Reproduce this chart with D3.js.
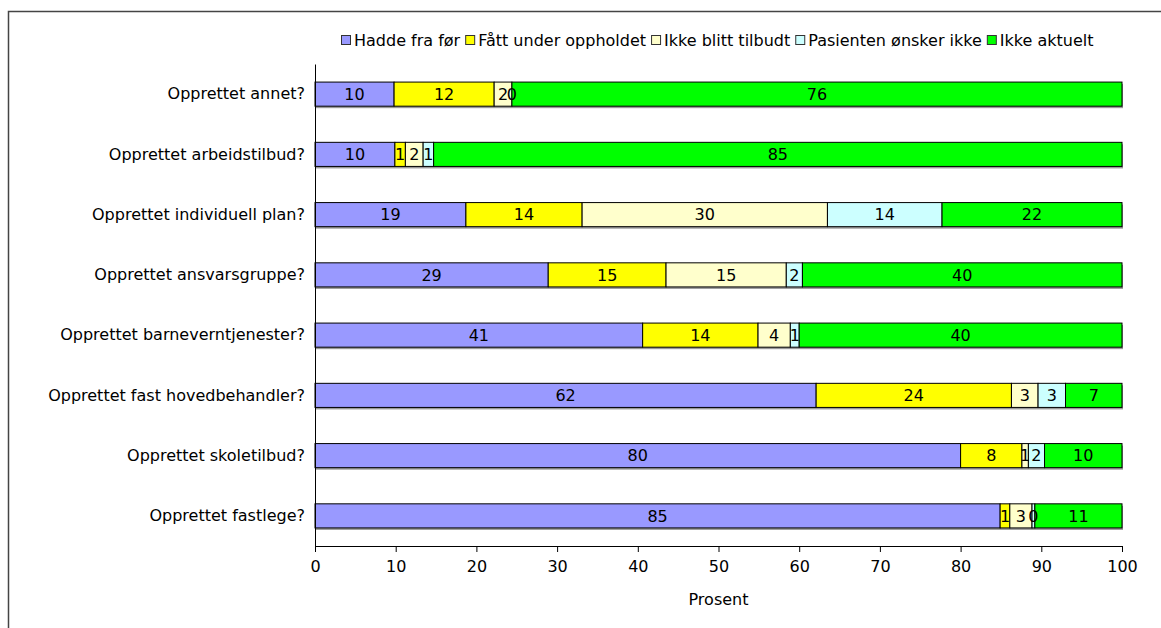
<!DOCTYPE html>
<html>
<head>
<meta charset="utf-8">
<script src="https://cdn.jsdelivr.net/npm/d3@7"></script>
<style>
  body { margin: 0; background: #fff; }
  text { font-family: "DejaVu Sans", Verdana, sans-serif; fill: #000; }
</style>
</head>
<body>
<svg width="1161" height="628"></svg>
<script>
// categories top to bottom
const questions = [
  "Opprettet annet?",
  "Opprettet arbeidstilbud?",
  "Opprettet individuell plan?",
  "Opprettet ansvarsgruppe?",
  "Opprettet barneverntjenester?",
  "Opprettet fast hovedbehandler?",
  "Opprettet skoletilbud?",
  "Opprettet fastlege?"
];
const seriesNames = ["Hadde fra før", "Fått under oppholdet", "Ikke blitt tilbudt", "Pasienten ønsker ikke", "Ikke aktuelt"];
const seriesColors = ["#9999ff", "#ffff00", "#ffffcc", "#ccffff", "#00ff00"];

// percent per series, one value per question
const haddeFraFor    = [9.8, 9.9, 18.7, 28.9, 40.6, 62.1, 80.0, 84.9];
const fattUnder      = [12.4, 1.3, 14.4, 14.6, 14.3, 24.2, 7.6, 1.2];
const ikkeTilbudt    = [2.2, 2.2, 30.4, 14.9, 4.0, 3.3, 0.8, 2.75];
const onskerIkke     = [0.0, 1.3, 14.2, 2.0, 1.1, 3.4, 2.0, 0.35];
const ikkeAktuelt    = [75.6, 85.3, 22.3, 39.6, 40.0, 7.0, 9.6, 10.8];
const xTicks = [0, 10, 20, 30, 40, 50, 60, 70, 80, 90, 100];

const svg = d3.select("svg");
const margin = {top: 64, left: 315, right: 39, bottom: 82};
const width = 1161, height = 628;
const fs = "16px";

// outer frame
svg.append("rect")
  .attr("x", 8.5).attr("y", 11.5)
  .attr("width", 1200).attr("height", 700)
  .attr("fill", "none").attr("stroke", "#444").attr("stroke-width", 1.5);

const rows = questions.map((q, i) => ({
  name: q,
  values: [haddeFraFor[i], fattUnder[i], ikkeTilbudt[i], onskerIkke[i], ikkeAktuelt[i]]
}));

const x = d3.scaleLinear().domain([0, 100]).range([margin.left, width - margin.right]);
const y = d3.scaleBand().domain(questions).range([margin.top, height - margin.bottom]).paddingInner(0.6).paddingOuter(0.3);

const g = svg.append("g");
rows.forEach(r => {
  let acc = 0;
  r.segs = r.values.map((v, k) => {
    const s = {start: acc, end: acc + v, v: v, k: k, name: r.name};
    acc += v;
    return s;
  });
});

const bar = g.selectAll(".row").data(rows).enter().append("g").attr("class", "row");

// slight shadow under bars
bar.append("rect")
  .attr("x", d => x(0) + 1)
  .attr("y", d => y(d.name) + 2)
  .attr("width", d => x(100) - x(0))
  .attr("height", y.bandwidth())
  .attr("fill", "#999");

bar.selectAll("rect.seg").data(d => d.segs).enter().append("rect")
  .attr("class", "seg")
  .attr("x", d => x(d.start))
  .attr("y", d => y(d.name))
  .attr("width", d => x(d.end) - x(d.start))
  .attr("height", y.bandwidth())
  .attr("fill", d => seriesColors[d.k])
  .attr("stroke", "#000").attr("stroke-width", 1);

bar.selectAll("text.lbl").data(d => d.segs).enter().append("text")
  .attr("class", "lbl")
  .attr("x", d => (x(d.start) + x(d.end)) / 2)
  .attr("y", d => y(d.name) + y.bandwidth() / 2)
  .attr("dy", "0.36em")
  .attr("text-anchor", "middle")
  .style("font-size", fs)
  .text(d => Math.round(d.v));

// axes
const xAxis = d3.axisBottom(x).tickValues(xTicks).tickSize(6).tickSizeOuter(0).tickPadding(9);
const axB = svg.append("g")
  .attr("transform", `translate(0,${height - margin.bottom})`)
  .call(xAxis);
axB.select(".domain").attr("stroke", "#000");
axB.selectAll("text").style("font-size", fs).style("font-family", "DejaVu Sans, Verdana, sans-serif");

const yAxis = d3.axisLeft(y).tickSize(0).tickPadding(10);
const axL = svg.append("g").attr("transform", `translate(${margin.left},0)`).call(yAxis);
axL.select(".domain").attr("stroke", "#000");
axL.selectAll("text").style("font-size", fs).style("font-family", "DejaVu Sans, Verdana, sans-serif");

svg.append("text")
  .attr("x", x(50)).attr("y", 605)
  .attr("text-anchor", "middle")
  .style("font-size", fs)
  .text("Prosent");

// legend, centred above the plot
const leg = svg.append("g").attr("transform", "translate(0,40)");
let lx = 0;
seriesNames.forEach((s, k) => {
  leg.append("rect").attr("x", lx + 0.5).attr("y", -4.5).attr("width", 9).attr("height", 9)
    .attr("fill", seriesColors[k]).attr("stroke", "#333");
  const t = leg.append("text").attr("x", lx + 13).attr("y", 0).attr("dy", "0.36em")
    .style("font-size", fs).text(s);
  lx += 13 + t.node().getComputedTextLength() + 5;
});
leg.attr("transform", `translate(${Math.round(720 - lx / 2)},40)`);
</script>
</body>
</html>
